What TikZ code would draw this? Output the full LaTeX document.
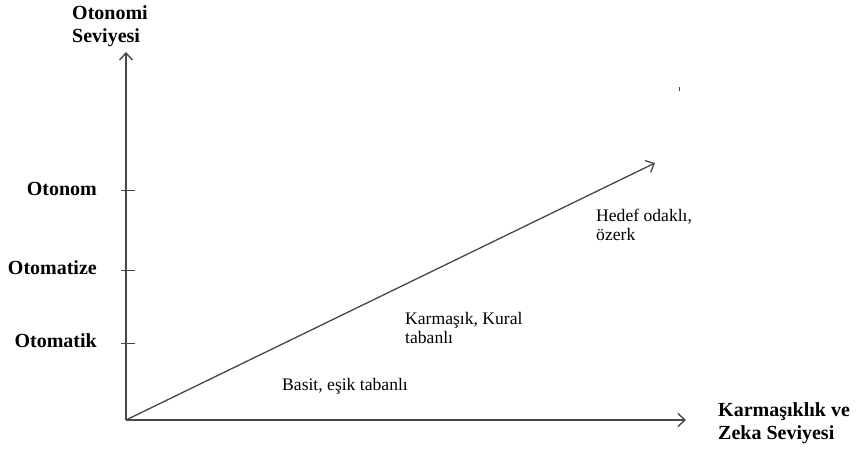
\documentclass[tikz,border=0pt]{standalone}
\usepackage{fontspec}
\setmainfont{Liberation Serif}
\usepackage{xcolor}
\usetikzlibrary{arrows.meta}

\definecolor{axisgray}{HTML}{474747}

\begin{document}
\begin{tikzpicture}[x=1pt, y=1pt,
  >={Straight Barb[length=7pt, width=13pt]},
  axislbl/.style={font=\fontsize{20}{22.5}\selectfont\bfseries, inner sep=0pt, align=left},
  lvllbl/.style={font=\fontsize{17.6}{19.5}\selectfont, inner sep=0pt, align=left, anchor=west}]
\useasboundingbox (0,0) rectangle (858,450);

\coordinate (O) at (126,30);
\coordinate (ytop) at (126,398);
\coordinate (xend) at (686,30);
\coordinate (tip) at (655,287);

\draw[axisgray, line width=1.4pt, ->] (O) -- (ytop);
\draw[axisgray, line width=1.4pt, ->] (O) -- (xend);
\draw[axisgray, line width=1.3pt, ->] (O) -- (tip);

\node[axislbl, anchor=west] (yname) at (72,424) {Otonomi\\Seviyesi};
\node[axislbl, anchor=west] (xname) at (718,27) {Karma\c{s}\i kl\i k ve\\Zeka Seviyesi};

\foreach \y/\l in {259/Otonom, 180/Otomatize, 107/Otomatik} {
  \draw[axisgray, line width=1pt] (121,\y) -- (135,\y);
  \node[axislbl, anchor=east] (\l) at (97,\y+2) {\l};
}

\node[lvllbl] (basit) at (282,64) {Basit, e\c{s}ik tabanl\i};
\node[lvllbl] (kural) at (405,122) {Karma\c{s}\i k, Kural\\tabanl\i};
\node[lvllbl] (hedef) at (596,225) {Hedef odakl\i,\\\"ozerk};

\draw[axisgray, line width=1pt] (679,359) -- (679,363);
\end{tikzpicture}
\end{document}
